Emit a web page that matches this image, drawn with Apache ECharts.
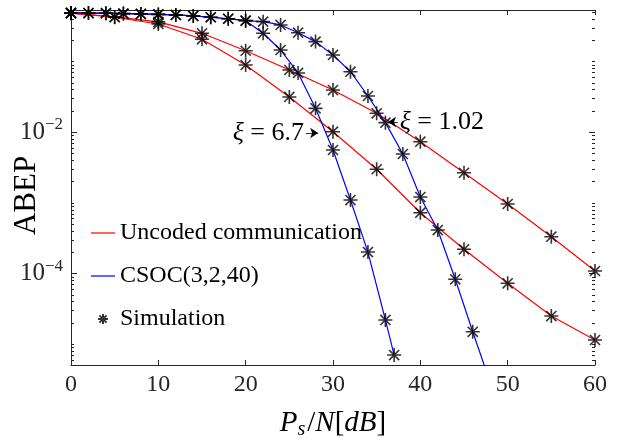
<!DOCTYPE html>
<html>
<head>
<meta charset="utf-8">
<script src="https://cdn.jsdelivr.net/npm/echarts@6/dist/echarts.min.js"></script>
<style>
  html, body { margin: 0; padding: 0; background: #fff; }
  #chart { width: 622px; height: 447px; }
</style>
</head>
<body>
<div id="chart"></div>
<script>
// uncoded communication, theory + simulation (every 5 dB)
var xRed = [0, 5, 10, 15, 20, 25, 30, 35, 40, 45, 50, 55, 60];
var redUpper = [0.479, 0.424, 0.361, 0.249, 0.141, 0.0753, 0.0392, 0.0184, 0.00729, 0.00265, 9.58e-4, 3.30e-4, 1.08e-4];
var redLower = [0.479, 0.420, 0.337, 0.205, 0.0887, 0.0313, 0.0101, 0.00297, 7.21e-4, 2.19e-4, 7.23e-5, 2.49e-5, 1.14e-5];

// CSOC(3,2,40), two curves (xi = 6.7 and xi = 1.02)
var xBlueA = [0, 2, 4, 6, 8, 10, 12, 14, 16, 18, 20, 22, 24, 26, 28, 30, 32, 34, 36, 37];
var blueA = [0.483, 0.481, 0.479, 0.473, 0.468, 0.461, 0.453, 0.438, 0.420, 0.400, 0.376,
             0.249, 0.1445, 0.0684, 0.0216, 0.00556, 0.00109, 2.00e-4, 2.19e-5, 6.99e-6];
var xBlueB = [0, 2, 4, 6, 8, 10, 12, 14, 16, 18, 20, 22, 24, 26, 28, 30, 32, 34, 36, 38, 40, 42, 44, 46];
var blueB = [0.483, 0.481, 0.479, 0.473, 0.468, 0.461, 0.453, 0.438, 0.420, 0.400, 0.376,
             0.364, 0.327, 0.254, 0.190, 0.123, 0.0713, 0.0323, 0.01355, 0.00488, 0.00120, 4.10e-4, 8.24e-5, 1.49e-5];
// theory curve B keeps going down past the last marker
var blueBTailX = [47.5];
var blueBTail = [4.3e-6];

var yMin = 5.05e-6, yMax = 0.532;

function pairs(xs, ys) {
  return xs.map(function(x, i) { return [x, ys[i]]; });
}

// matlab style log ticks: 1..9 x 10^e, long ones at labelled decades
var tickVals = [];
for (var e = -6; e <= -1; e++) {
  for (var k = 1; k <= 9; k++) {
    var v = +(k * Math.pow(10, e)).toPrecision(3);
    if (v >= yMin && v <= yMax) tickVals.push([0, v, (k === 1 && (e === -2 || e === -4)) ? 1 : 0]);
  }
}

var FONT = 'Liberation Serif';
var AXC = '#262626';

var starPath = 'path://M0,-1L0,1M-1,0L1,0M-0.72,-0.72L0.72,0.72M-0.72,0.72L0.72,-0.72';
var lineIcon = 'path://M0,0L20,0L20,1L0,1Z';

var simData = pairs(xRed, redUpper)
  .concat(pairs(xRed, redLower))
  .concat(pairs(xBlueA, blueA))
  .concat(pairs(xBlueB, blueB));

var chart = echarts.init(document.getElementById('chart'));

var lineBase = {
  type: 'line',
  symbol: 'none',
  smooth: false,
  xAxisIndex: 0,
  yAxisIndex: 0
};

var textRich = {
  i: { fontFamily: FONT, fontSize: 26, fontStyle: 'italic', color: '#000' },
  n: { fontFamily: FONT, fontSize: 26, color: '#000' }
};

chart.setOption({
  animation: false,
  grid: { left: 71, right: 27, top: 10, bottom: 82, containLabel: false, outerBoundsMode: 'none' },
  legend: {
    data: [
      { name: 'Uncoded communication', icon: lineIcon },
      { name: 'CSOC(3,2,40)', icon: lineIcon },
      { name: 'Simulation' }
    ],
    orient: 'vertical',
    left: 91,
    top: 221,
    padding: 0,
    itemWidth: 24,
    itemHeight: 10,
    itemGap: 19,
    textStyle: { fontFamily: FONT, fontSize: 24, color: '#000' }
  },
  xAxis: [{
    type: 'value',
    min: 0, max: 60, interval: 10,
    position: 'bottom',
    axisLine: { lineStyle: { color: AXC, width: 1 } },
    axisTick: { inside: true, length: 5, lineStyle: { color: AXC } },
    axisLabel: { fontFamily: FONT, fontSize: 24, color: AXC, margin: 8 },
    splitLine: { show: false },
    name: '{i|P}{s|s}{n|/}{i|N}{n|[}{i|dB}{n|]}',
    nameLocation: 'middle',
    nameMoveOverlap: false,
    nameGap: 42,
    nameTextStyle: {
      rich: {
        i: { fontFamily: FONT, fontSize: 29, fontStyle: 'italic', color: '#000' },
        n: { fontFamily: FONT, fontSize: 29, color: '#000' },
        s: { fontFamily: FONT, fontSize: 20, fontStyle: 'italic', color: '#000', padding: [13, 2, 0, 0] }
      }
    }
  }, {
    type: 'value',
    min: 0, max: 60, interval: 10,
    position: 'top',
    axisLine: { lineStyle: { color: AXC, width: 1 } },
    axisTick: { inside: true, length: 5, lineStyle: { color: AXC } },
    axisLabel: { show: false },
    splitLine: { show: false }
  }],
  yAxis: [{
    type: 'log',
    logBase: 10,
    min: yMin, max: yMax,
    position: 'left',
    axisLine: { lineStyle: { color: AXC, width: 1 } },
    axisTick: { show: false },
    splitLine: { show: false },
    axisLabel: {
      margin: 8,
      formatter: function(val) {
        var p = Math.log10(val), r = Math.round(p);
        if (Math.abs(p - r) > 1e-6 || r % 2 !== 0) return '';
        return '{b|10}{e|\u2212' + (-r) + '}';
      },
      rich: {
        b: { fontFamily: FONT, fontSize: 25, color: AXC },
        e: { fontFamily: FONT, fontSize: 17, color: AXC, padding: [0, 0, 14, 0] }
      }
    },
    name: 'ABEP',
    nameLocation: 'middle',
    nameMoveOverlap: false,
    nameGap: 29,
    nameTextStyle: { fontFamily: FONT, fontSize: 31, color: '#000', padding: [0, 16, 0, 0] }
  }, {
    type: 'log',
    logBase: 10,
    min: yMin, max: yMax,
    position: 'right',
    axisLine: { lineStyle: { color: AXC, width: 1 } },
    axisTick: { show: false },
    axisLabel: { show: false },
    splitLine: { show: false }
  }],
  series: [
    Object.assign({}, lineBase, {
      name: 'Uncoded communication',
      data: pairs(xRed, redUpper),
      lineStyle: { color: '#ff0000', width: 1.2 },
      itemStyle: { color: '#ff0000' }
    }),
    Object.assign({}, lineBase, {
      name: 'Uncoded communication',
      data: pairs(xRed, redLower),
      lineStyle: { color: '#ff0000', width: 1.2 },
      itemStyle: { color: '#ff0000' }
    }),
    Object.assign({}, lineBase, {
      name: 'CSOC(3,2,40)',
      data: pairs(xBlueA, blueA),
      lineStyle: { color: '#0000ff', width: 1.2 },
      itemStyle: { color: '#0000ff' }
    }),
    Object.assign({}, lineBase, {
      name: 'CSOC(3,2,40)',
      data: pairs(xBlueB, blueB).concat(pairs(blueBTailX, blueBTail)),
      lineStyle: { color: '#0000ff', width: 1.2 },
      itemStyle: { color: '#0000ff' }
    }),
    {
      name: 'Simulation',
      type: 'scatter',
      data: simData,
      symbol: starPath,
      symbolSize: 14,
      itemStyle: { color: 'rgba(0,0,0,0)', borderColor: '#000', borderWidth: 1.6 },
      z: 5,
      markLine: {
        silent: true,
        symbol: ['none', 'arrow'],
        symbolSize: 8,
        lineStyle: { color: '#000', width: 0.8, type: 'solid' },
        label: { show: true, position: 'start', distance: 2, rich: textRich },
        data: [
          [{ coord: [26.9, 0.00968], label: { formatter: '{i|\u03be}{n| = 6.7}' } },
           { coord: [28.3, 0.00968] }],
          [{ coord: [37.4, 0.01386], label: { formatter: '{i|\u03be}{n| = 1.02}' } },
           { coord: [36.3, 0.01386] }]
        ]
      }
    },
    {
      name: 'ticks',
      type: 'custom',
      silent: true,
      clip: false,
      data: tickVals,
      renderItem: function(params, api) {
        var cs = params.coordSys;
        var y = Math.round(api.coord([0, api.value(1)])[1]) + 0.5;
        var len = api.value(2) ? 6 : 3;
        return {
          type: 'group',
          children: [
            { type: 'line', shape: { x1: cs.x, y1: y, x2: cs.x + len, y2: y }, style: { stroke: AXC, lineWidth: 1 } },
            { type: 'line', shape: { x1: cs.x + cs.width, y1: y, x2: cs.x + cs.width - len, y2: y }, style: { stroke: AXC, lineWidth: 1 } }
          ]
        };
      }
    }
  ]
});
</script>
</body>
</html>
